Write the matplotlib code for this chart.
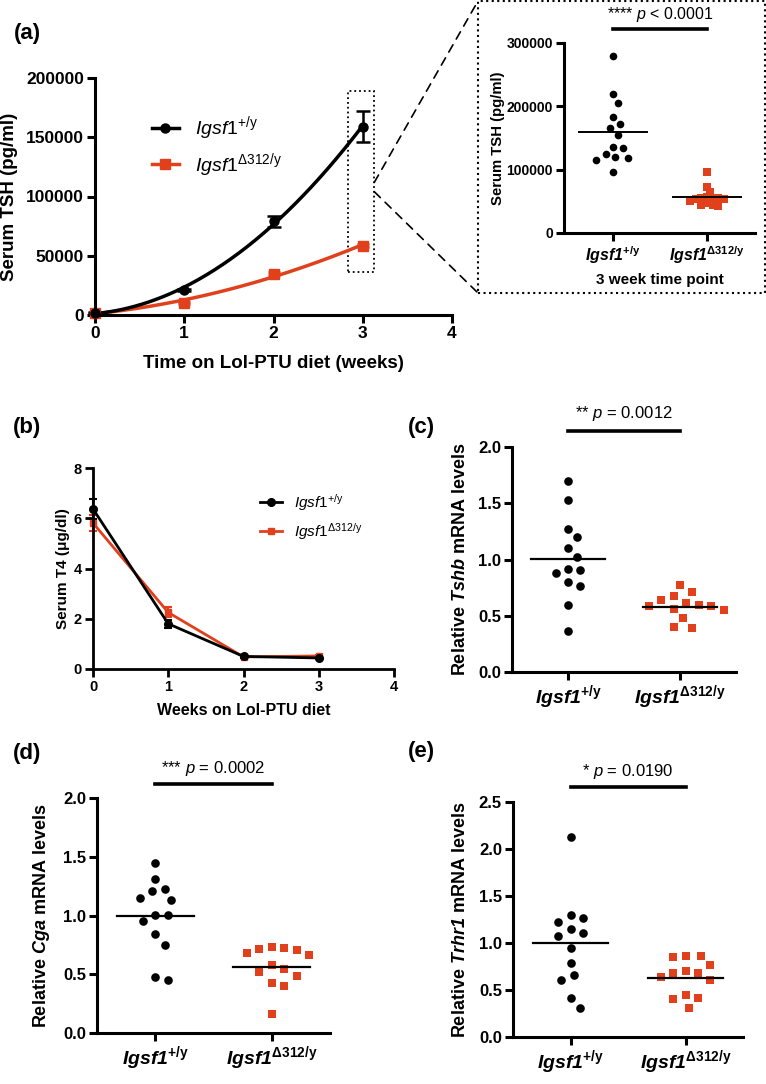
import numpy as np
import matplotlib
matplotlib.use("Agg")
import matplotlib.pyplot as plt
import matplotlib.patches as patches
from matplotlib.lines import Line2D
from matplotlib.patches import ConnectionPatch

plt.rcParams['font.family'] = ['Liberation Sans', 'DejaVu Sans']
plt.rcParams['font.weight'] = 'bold'
plt.rcParams['axes.labelweight'] = 'bold'
plt.rcParams['mathtext.fontset'] = 'custom'
plt.rcParams['mathtext.rm'] = 'Liberation Sans:weight=normal'
plt.rcParams['mathtext.it'] = 'Liberation Sans:style=italic:weight=normal'
plt.rcParams['mathtext.bf'] = 'Liberation Sans:weight=bold'
plt.rcParams['mathtext.bfit'] = 'Liberation Sans:style=italic:weight=bold'

BLACK = 'black'
RED = '#E0401C'

# ---- data ----
weeks = [0, 1, 2, 3]
tsh_wt = [2000, 21000, 79000, 159000]
tsh_wt_sem = [500, 1000, 4500, 13000]
tsh_ko = [2000, 10000, 35000, 58500]
tsh_ko_sem = [500, 800, 1200, 1500]

t4_wt = [6.37, 1.80, 0.50, 0.44]
t4_wt_sem = [0.40, 0.15, 0.05, 0.05]
t4_ko = [5.81, 2.25, 0.48, 0.52]
t4_ko_sem = [0.30, 0.20, 0.05, 0.05]

tsh3_wt = [279500, 219000, 204800, 182700, 172100, 165300, 154700,
           136300, 133700, 120500, 118900, 115300, 124700, 96800]
tsh3_ko = [95700, 73100, 65200, 57000, 56000, 55500, 54800,
           54000, 53000, 51000, 47000, 45000, 43500, 42500]

tshb_wt = [1.695, 1.526, 1.271, 1.197, 1.102, 1.022, 0.918,
           0.880, 0.910, 0.767, 0.797, 0.599, 0.361]
tshb_ko = [0.770, 0.673, 0.711, 0.613, 0.584, 0.637, 0.599,
           0.584, 0.548, 0.560, 0.480, 0.391, 0.400]

cga_wt = [1.444, 1.313, 1.226, 1.209, 1.152, 1.132, 1.004,
          1.001, 0.950, 0.843, 0.752, 0.477, 0.454]
cga_ko = [0.732, 0.715, 0.681, 0.667, 0.704, 0.721, 0.582,
          0.545, 0.516, 0.488, 0.426, 0.403, 0.165]

trhr1_wt = [2.123, 1.298, 1.270, 1.227, 1.145, 1.102, 1.074,
            0.949, 0.789, 0.658, 0.605, 0.420, 0.313]
trhr1_ko = [0.864, 0.846, 0.864, 0.761, 0.704, 0.676, 0.676,
            0.640, 0.605, 0.420, 0.445, 0.409, 0.313]

WT_LEG = r'$\mathit{Igsf1}^{\mathrm{+/y}}$'
KO_LEG = r'$\mathit{Igsf1}^{\mathrm{\Delta312/y}}$'
WT_TICK = r'$\mathbfit{Igsf1}^{\mathbf{+/y}}$'
KO_TICK = r'$\mathbfit{Igsf1}^{\mathbf{\Delta312/y}}$'

W, H = 766, 1084
fig = plt.figure(figsize=(W / 100, H / 100), dpi=100)


def box(left, top, right, bottom):
    # pixel box -> figure fraction rect
    return [left / W, 1 - bottom / H, (right - left) / W, (bottom - top) / H]


def style(ax, lw=2.2, size=12):
    for s in ['top', 'right']:
        ax.spines[s].set_visible(False)
    for s in ['left', 'bottom']:
        ax.spines[s].set_linewidth(lw)
    ax.tick_params(width=lw, length=6, labelsize=size, direction='out', pad=2)


def swarm(ax, x0, vals, diam):
    # simple beeswarm in display space
    pts = ax.transData.transform([(x0, v) for v in vals])
    order = np.argsort(-np.asarray(vals))
    placed = []
    out = np.zeros(len(vals))
    for i in order:
        px, py = pts[i]
        best = None
        for k in range(0, 60):
            for sgn in ([1] if k == 0 else [1, -1]):
                cx = px + sgn * k * diam * 0.25
                ok = all((cx - qx) ** 2 + (py - qy) ** 2 >= diam ** 2 for qx, qy in placed)
                if ok:
                    best = cx
                    break
            if best is not None:
                break
        placed.append((best, py))
        out[i] = ax.transData.inverted().transform((best, py))[0]
    return out


def dot_panel(ax, wt, ko, ylim, yticks, ylabel, stars, ptxt, bar_y, txt_y,
              ms=6.2, half=0.33, tick_size=12, lab_size=13, xt_size=14, p_size=12,
              mean_lw=1.6, spread=1.45, spread_ko=None):
    ax.set_xlim(-0.5, 1.5)
    ax.set_ylim(*ylim)
    ax.set_yticks(yticks)
    style(ax, size=tick_size)
    diam = ms * 100 / 72
    xw = swarm(ax, 0, wt, diam * spread)
    xk = swarm(ax, 1, ko, diam * (spread if spread_ko is None else spread_ko))
    ax.plot(xw, wt, 'o', color=BLACK, ms=ms, mew=0, clip_on=False, zorder=3)
    ax.plot(xk, ko, 's', color=RED, ms=ms * 0.95, mew=0, clip_on=False, zorder=3)
    ax.plot([-half, half], [np.mean(wt)] * 2, color=BLACK, lw=mean_lw, zorder=4)
    ax.plot([1 - half, 1 + half], [np.mean(ko)] * 2, color=BLACK, lw=mean_lw, zorder=4)
    ax.set_xticks([0, 1])
    ax.set_xticklabels([WT_TICK, KO_TICK], fontsize=xt_size)
    ax.set_ylabel(ylabel, fontsize=lab_size)
    ax.plot([0, 1], [bar_y, bar_y], color=BLACK, lw=2.6, clip_on=False)
    ax.text(0.5, txt_y, stars + r' $\mathit{p}$ ' + ptxt, ha='center', va='center',
            fontsize=p_size, fontweight='normal')


# ---- (a) TSH time course ----
ax_a = fig.add_axes(box(95, 78, 452, 315))
ax_a.set_xlim(0, 4)
ax_a.set_ylim(0, 200000)
ax_a.set_xticks([0, 1, 2, 3, 4])
ax_a.set_yticks([0, 50000, 100000, 150000, 200000])
style(ax_a, size=12.5)
xs = np.linspace(0, 3, 200)
ax_a.plot(xs, np.polyval(np.polyfit(weeks, tsh_ko, 2), xs), color=RED, lw=2.5, clip_on=False)
ax_a.plot(xs, np.polyval(np.polyfit(weeks, tsh_wt, 2), xs), color=BLACK, lw=2.5, clip_on=False)
ax_a.errorbar(weeks, tsh_ko, yerr=tsh_ko_sem, fmt='s', color=RED, ms=6.5, capsize=4,
              elinewidth=1.8, capthick=1.8, clip_on=False)
ax_a.errorbar(weeks, tsh_wt, yerr=tsh_wt_sem, fmt='o', color=BLACK, ms=6.5, capsize=5,
              elinewidth=1.8, capthick=1.8, clip_on=False)
ax_a.set_xlabel('Time on Lol-PTU diet (weeks)', fontsize=13.5)
ax_a.set_ylabel('Serum TSH (pg/ml)', fontsize=13.5)
ax_a.xaxis.set_label_coords(0.5, -0.17)
ax_a.yaxis.set_label_coords(-0.215, 0.5)
hw = Line2D([], [], color=BLACK, marker='o', lw=2.5, ms=6.5)
hk = Line2D([], [], color=RED, marker='s', lw=2.5, ms=6.5)
ax_a.legend([hw, hk], [WT_LEG, KO_LEG], loc='upper left', bbox_to_anchor=(0.11, 0.92),
            frameon=False, prop={'size': 14, 'weight': 'normal'}, handlelength=1.4,
            labelspacing=0.45)
ax_a.add_patch(patches.Rectangle((2.84, 36300), 0.29, 152700, fill=False, ls=':', lw=1.3,
                                 ec=BLACK, clip_on=False))

# inset box and connectors
fig.add_artist(patches.Rectangle((478 / W, 1 - 293 / H), (765 - 478) / W, 292 / H,
                                 transform=fig.transFigure, fill=False, ls=':', lw=1.5, ec=BLACK))
for ya, yb in [(112000, 1 - 1 / H), (104000, 1 - 293 / H)]:
    fig.add_artist(ConnectionPatch(xyA=(3.13, ya), coordsA=ax_a.transData,
                                   xyB=(478 / W, yb), coordsB=fig.transFigure,
                                   ls=(0, (5, 4)), lw=1.2, color=BLACK))

ax_i = fig.add_axes(box(564, 43, 755, 233))
dot_panel(ax_i, tsh3_wt, tsh3_ko, (0, 300000), [0, 100000, 200000, 300000],
          'Serum TSH (pg/ml)', '****', '< 0.0001', 322000, 345000,
          ms=5.5, half=0.36, tick_size=10, lab_size=10.7, xt_size=11.5, p_size=11.5,
          mean_lw=1.4, spread=1.3, spread_ko=0.75)
ax_i.set_xlim(-0.52, 1.51)
ax_i.set_xlabel('3 week time point', fontsize=11)
ax_i.xaxis.set_label_coords(0.5, -0.21)
ax_i.yaxis.set_label_coords(-0.31, 0.5)

# ---- (b) T4 time course ----
ax_b = fig.add_axes(box(93, 468, 394, 669))
ax_b.set_xlim(0, 4)
ax_b.set_ylim(0, 8)
ax_b.set_xticks([0, 1, 2, 3, 4])
ax_b.set_yticks([0, 2, 4, 6, 8])
style(ax_b, lw=2.0, size=10.5)
ax_b.errorbar(weeks, t4_ko, yerr=t4_ko_sem, fmt='-s', color=RED, ms=5, lw=2, capsize=3,
              elinewidth=1.5, capthick=1.5, clip_on=False)
ax_b.errorbar(weeks, t4_wt, yerr=t4_wt_sem, fmt='-o', color=BLACK, ms=5.5, lw=2, capsize=3,
              elinewidth=1.5, capthick=1.5, clip_on=False)
ax_b.set_xlabel('Weeks on Lol-PTU diet', fontsize=11.5)
ax_b.set_ylabel('Serum T4 (μg/dl)', fontsize=11)
ax_b.xaxis.set_label_coords(0.5, -0.17)
ax_b.yaxis.set_label_coords(-0.075, 0.5)
hw = Line2D([], [], color=BLACK, marker='o', lw=2, ms=5.5)
hk = Line2D([], [], color=RED, marker='s', lw=2, ms=5)
ax_b.legend([hw, hk], [WT_LEG, KO_LEG], loc='upper left', bbox_to_anchor=(0.51, 0.95),
            frameon=False, prop={'size': 11, 'weight': 'normal'}, handlelength=1.4,
            labelspacing=0.55)

# ---- (c) Tshb ----
ax_c = fig.add_axes(box(512, 447, 736, 672))
dot_panel(ax_c, tshb_wt, tshb_ko, (0, 2), [0, 0.5, 1.0, 1.5, 2.0],
          r'Relative $\mathbfit{Tshb}$ mRNA levels', '**', '= 0.0012', 2.142, 2.30)
ax_c.yaxis.set_major_formatter('{x:.1f}')
ax_c.yaxis.set_label_coords(-0.19, 0.5)

# ---- (d) Cga ----
ax_d = fig.add_axes(box(97, 798, 330, 1033))
dot_panel(ax_d, cga_wt, cga_ko, (0, 2), [0, 0.5, 1.0, 1.5, 2.0],
          r'Relative $\mathbfit{Cga}$ mRNA levels', '***', '= 0.0002', 2.119, 2.255)
ax_d.yaxis.set_major_formatter('{x:.1f}')
ax_d.yaxis.set_label_coords(-0.195, 0.5)

# ---- (e) Trhr1 ----
ax_e = fig.add_axes(box(513, 802, 743, 1037))
dot_panel(ax_e, trhr1_wt, trhr1_ko, (0, 2.5), [0, 0.5, 1.0, 1.5, 2.0, 2.5],
          r'Relative $\mathbfit{Trhr1}$ mRNA levels', '*', '= 0.0190', 2.66, 2.82)
ax_e.yaxis.set_major_formatter('{x:.1f}')
ax_e.yaxis.set_label_coords(-0.19, 0.5)

# panel letters
for lab, px, py in [('(a)', 14, 33), ('(b)', 13, 428), ('(c)', 408, 427),
                    ('(d)', 13, 753), ('(e)', 408, 752)]:
    fig.text(px / W, 1 - py / H, lab, fontsize=16, fontweight='bold', va='center', ha='left')

fig.savefig('out.png', dpi=100)
